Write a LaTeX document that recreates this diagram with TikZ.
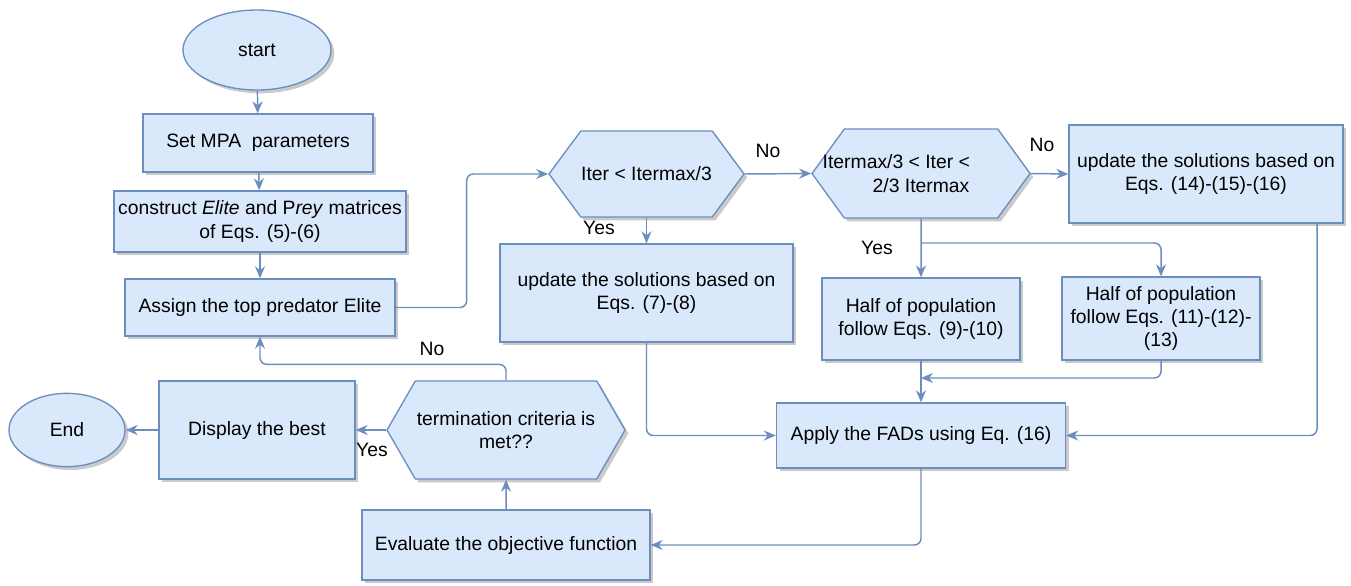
\documentclass[tikz,border=0pt]{standalone}
\usepackage{fontspec}
\setmainfont{Liberation Sans}
\usetikzlibrary{shapes.geometric,shapes.symbols,arrows.meta,shadows}
\definecolor{boxfill}{HTML}{DAE8FC}
\definecolor{boxline}{HTML}{6C8EBF}

\begin{document}
\begin{tikzpicture}[x=0.75pt, y=-0.75pt, font=\fontsize{14.5}{17.5}\selectfont,
		>={Stealth[length=9pt, width=7.5pt]},
		sh/.style={drop shadow={shadow xshift=2.5pt, shadow yshift=-2.5pt, opacity=0.35, fill=black!60}},
		b/.style={rectangle, draw=boxline, fill=boxfill, line width=1pt, align=center, inner sep=2pt, sh},
		h/.style={signal, signal to=west and east, signal pointer angle=#1, draw=boxline, fill=boxfill, line width=1pt, align=center, inner sep=0pt, sh},
		e/.style={ellipse, draw=boxline, fill=boxfill, line width=1pt, inner sep=0pt, sh},
		l/.style={->, draw=boxline, line width=1.1pt, rounded corners=5pt},
		lbl/.style={inner sep=1pt}]
		\useasboundingbox (0,0) rectangle (1351,585);

		% left column
		\node[e, minimum width=111pt, minimum height=60pt] (s) at (257,50) {start};
		\node[b, minimum width=172.5pt, minimum height=43.5pt] (p) at (258,143) {Set MPA\ \ parameters};
		\node[b, minimum width=219pt, minimum height=45.75pt] (c) at (260,221.5) {construct \textit{Elite} and P\textit{rey} matrices\\of Eqs. (5)-(6)};
		\node[b, minimum width=202.5pt, minimum height=42.75pt] (a) at (260,307.5) {Assign the top predator Elite};

		% bottom row
		\node[e, minimum width=87pt, minimum height=55pt] (z) at (67,430) {End};
		\node[b, minimum width=147pt, minimum height=73.5pt] (d) at (257,430) {Display the best};
		\node[h=120, minimum width=178.5pt, minimum height=73.5pt] (t) at (506,430) {termination criteria is\\met??};
		\node[b, minimum width=216pt, minimum height=52.5pt] (v) at (506,545) {Evaluate the objective function};

		% phases
		\node[h=107, minimum width=146.25pt, minimum height=64.5pt] (i1) at (646.5,174) {Iter < Itermax/3};
		\node[b, minimum width=219.75pt, minimum height=73.5pt] (u1) at (646.5,293) {update the solutions based on\\Eqs. (7)-(8)};
		\node[h=108, minimum width=163.5pt, minimum height=66.75pt] (i2) at (921,173.5) {\makebox[73pt]{\hspace*{-37pt}Itermax/3 < Iter <}\\2/3 Itermax};
		\node[b, minimum width=205.5pt, minimum height=73.5pt] (u3) at (1206,174) {update the solutions based on\\Eqs. (14)-(15)-(16)};
		\node[b, minimum width=148.5pt, minimum height=61.5pt] (h1) at (921,319) {Half of population\\follow Eqs. (9)-(10)};
		\node[b, minimum width=148.5pt, minimum height=62.25pt] (h2) at (1161,318.5) {Half of population\\follow Eqs. (11)-(12)-\\(13)};
		\node[b, minimum width=216.75pt, minimum height=48.75pt] (f) at (921,435.5) {Apply the FADs using Eq. (16)};

		\coordinate (br) at (921,243);
		\coordinate (jn) at (921,378);

		\draw[l] (s) -- (p);
		\draw[l] (p) -- (c);
		\draw[l] (c) -- (a);
		\draw[l] (a.east) -- ++(71,0) |- (i1.west);
		\draw[l] (i1.east) -- (i2.west);
		\draw[l] (i1) -- (u1);
		\draw[l] (i2.east) -- (u3.west);
		\draw[l] (i2) -- (h1);
		\draw[l] (br) -| (h2);
		\draw[l] (h1) -- (f);
		\draw[l] (h2.south) |- (jn);
		\draw[l] (u1.south) |- (f.west);
		\draw[l] ([xshift=-20pt]u3.south east) |- (f.east);
		\draw[l] (f.south) |- (v.east);
		\draw[l] (v) -- (t);
		\draw[l] (t.west) -- (d.east);
		\draw[l] (d) -- (z);
		\draw[l] (t.north) -- ++(0,-16) -| (a.south);

		\node[lbl] at (768,151) {No};
		\node[lbl] at (1042,145) {No};
		\node[lbl] at (599,228) {Yes};
		\node[lbl] at (877,248) {Yes};
		\node[lbl] at (432,349) {No};
		\node[lbl] at (372,450) {Yes};
	\end{tikzpicture}
\end{document}
